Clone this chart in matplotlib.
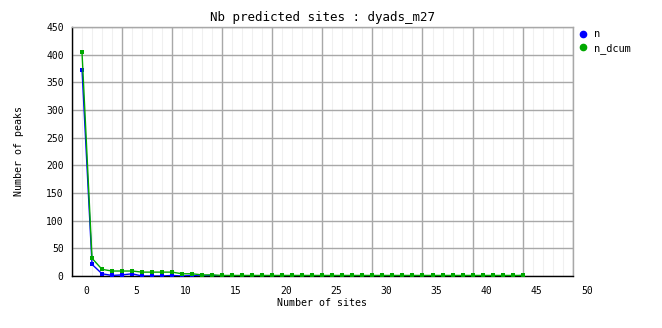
import matplotlib
matplotlib.use("Agg")
import matplotlib.pyplot as plt
import matplotlib.transforms as mtransforms
from matplotlib.lines import Line2D
import numpy as np

BLUE = "#0000ff"
GREEN = "#00a800"
MAJOR_GRID = "#a8a8a8"
MINOR_GRID = "#f0f0f0"
FONT = "DejaVu Sans Mono"

# number of sites (x) and peak counts
sites = list(range(0, 45))
n = [373, 21, 4, 1, 2, 4, 0, 0, 0, 1, 0, 1, 0, 1] + [0] * 30 + [1]
n_dcum = [404, 32, 12, 9, 9, 9, 7, 7, 7, 7, 4, 4, 2, 2] + [1] * 31

x_tick_labels = [str(v) for v in range(0, 51, 5)]
y_ticks = list(range(0, 451, 50))

fig = plt.figure(figsize=(6.62, 3.28), dpi=100, facecolor="white")
ax = fig.add_axes([72 / 662, 52 / 328, 500.7 / 662, 249 / 328])

ax.plot(sites, n, color=BLUE, linewidth=1, marker="s", markersize=3.2,
        markeredgewidth=0, zorder=3)
ax.plot(sites, n_dcum, color=GREEN, linewidth=1, marker="s", markersize=3.2,
        markeredgewidth=0, zorder=4)

ax.set_xlim(-1, 49)
ax.set_ylim(0, 450)

# gridlines fall one unit left of the printed label values
ax.set_xticks([v - 1 for v in range(0, 51, 5)])
ax.set_xticklabels(x_tick_labels)
ax.set_xticks(np.arange(-1, 50, 1), minor=True)
ax.set_yticks(y_ticks)

ax.xaxis.grid(True, which="minor", color=MINOR_GRID, linewidth=0.8, zorder=0)
ax.xaxis.grid(True, which="major", color=MAJOR_GRID, linewidth=1, zorder=1)
ax.yaxis.grid(True, which="major", color=MAJOR_GRID, linewidth=1, zorder=1)
ax.set_axisbelow(True)

ax.tick_params(axis="both", which="both", length=0, labelsize=7, colors="black")
ax.tick_params(axis="x", pad=7)
ax.tick_params(axis="y", pad=6)
for lab in ax.get_xticklabels() + ax.get_yticklabels():
    lab.set_family(FONT)
offset = mtransforms.ScaledTranslation(14 / 100, 0, fig.dpi_scale_trans)
for lab in ax.get_xticklabels():
    lab.set_transform(lab.get_transform() + offset)

ax.spines["left"].set_color("black")
ax.spines["bottom"].set_color("black")
ax.spines["top"].set_color(MAJOR_GRID)
ax.spines["right"].set_color(MAJOR_GRID)
for s in ax.spines.values():
    s.set_linewidth(1)

ax.set_title("Nb predicted sites : dyads_m27", fontsize=9, family=FONT, pad=4)
ax.set_xlabel("Number of sites", fontsize=7.2, family=FONT, labelpad=2)
ax.set_ylabel("Number of peaks", fontsize=7.2, family=FONT, labelpad=16)

handles = [
    Line2D([], [], color=BLUE, marker="o", linestyle="none", markersize=4.5),
    Line2D([], [], color=GREEN, marker="o", linestyle="none", markersize=4.5),
]
fig.legend(handles, ["n", "n_dcum"], loc="upper left",
           bbox_to_anchor=(569 / 662, 1 - 20 / 328), frameon=False,
           handlelength=1.0, handletextpad=0.5, labelspacing=0.35,
           prop={"family": FONT, "size": 7.4})

fig.savefig("out.png", dpi=100, facecolor="white")
